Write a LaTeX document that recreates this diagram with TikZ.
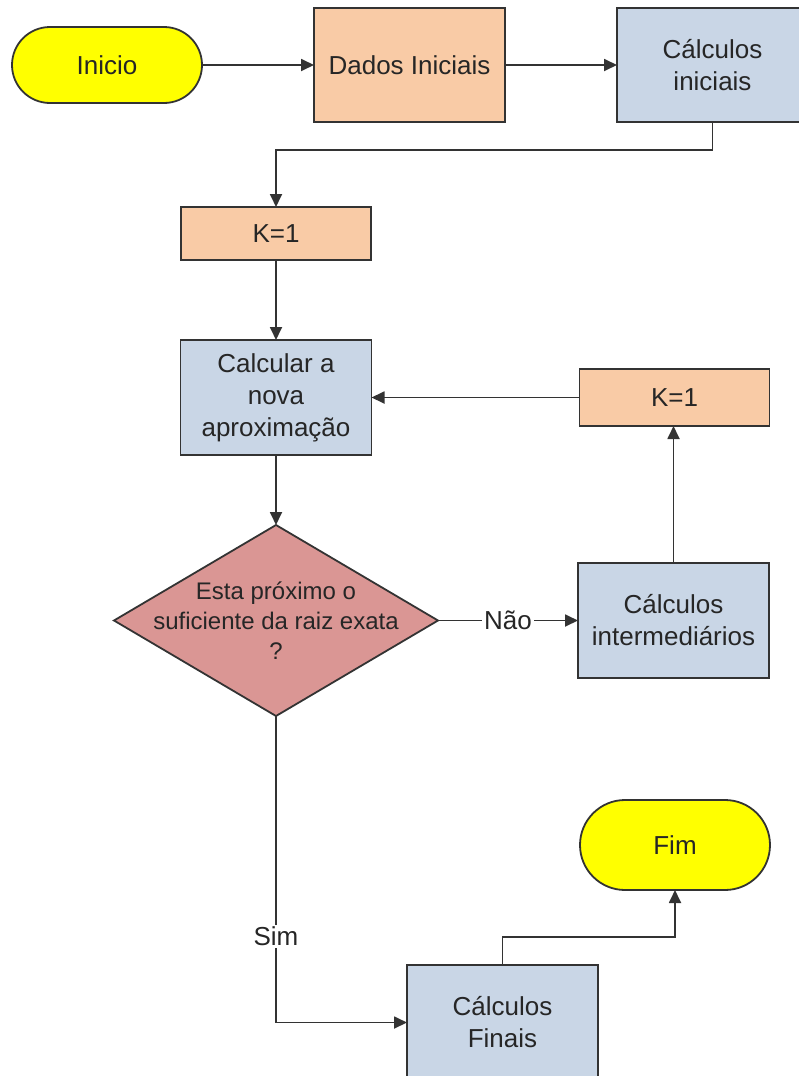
\documentclass[tikz,border=0pt]{standalone}
\usepackage{fontspec}
\setmainfont{Liberation Sans}
\usetikzlibrary{shapes.geometric, arrows.meta, positioning}

\definecolor{startyellow}{HTML}{FFFF00}
\definecolor{datapeach}{HTML}{F9CBA6}
\definecolor{calcblue}{HTML}{C9D6E6}
\definecolor{testred}{HTML}{DA9694}
\definecolor{edgegray}{HTML}{333333}
\definecolor{textgray}{HTML}{262626}

\begin{document}
\begin{tikzpicture}[
    x=1pt, y=1pt,
    every node/.style={inner sep=0pt, outer sep=0pt, text=textgray},
    terminal/.style={rectangle, rounded corners=38pt, minimum width=190pt, minimum height=76pt, align=center, fill=startyellow, draw=edgegray, line width=1.8pt, font=\fontsize{26}{31}\selectfont},
    data/.style={rectangle, minimum width=191pt, minimum height=114pt, align=center, fill=datapeach, draw=edgegray, line width=1.8pt, font=\fontsize{26}{31}\selectfont},
    calc/.style={rectangle, minimum width=191pt, minimum height=115pt, align=center, fill=calcblue, draw=edgegray, line width=1.8pt, font=\fontsize{26}{32}\selectfont},
    decision/.style={diamond, minimum width=324pt, minimum height=191pt, fill=testred, draw=edgegray, line width=1.8pt},
    answer/.style={fill=white, inner sep=2pt, font=\fontsize{26}{31}\selectfont},
    arrow/.style={-{Triangle[length=13pt,width=12pt]}, line width=1.8pt, draw=edgegray}
]
\useasboundingbox (0,0) rectangle (798,-1076);

% Inicio
\node[terminal] (inicio) at (107,-65) {Inicio};

% Dados Iniciais
\node[data, right=112pt of inicio] (dados) {Dados Iniciais};

% Calculos iniciais
\node[calc, minimum height=114pt, right=112pt of dados] (calcini) {Cálculos\\iniciais};

% K=1
\node[data, minimum width=190pt, minimum height=53pt] (k1) at (276,-233.5) {K=1};

% Nova aproximacao
\node[calc, below=80pt of k1] (nova) {Calcular a\\nova\\aproximação};

% Teste de convergencia
\node[decision, below=70pt of nova,
      label={[align=center, text=textgray, font=\fontsize{24}{30}\selectfont]center:Esta próximo o\\suficiente da raiz exata\\?}] (teste) {};

% Calculos intermediarios
\node[calc, right=140pt of teste] (interm) {Cálculos\\intermediários};

% K=1 no laco
\node[data, minimum width=190pt, minimum height=57pt, right=208pt of nova] (k2) {K=1};

% Calculos finais
\node[calc] (finais) at (502.5,-1022.5) {Cálculos\\Finais};

% Fim
\node[terminal, minimum height=90pt, rounded corners=45pt] (fim) at (675,-845) {Fim};

% Arrows
\draw[arrow] (inicio) -- (dados);
\draw[arrow] (dados) -- (calcini);
\draw[arrow] (calcini.south) -- ++(0,-28) -| (k1.north);
\draw[arrow] (k1) -- (nova);
\draw[arrow] (nova) -- (teste);

% Nao: volta pelo laco
\draw[arrow] (teste.east) -- node[answer] {Não} (interm.west);
\draw[arrow] (interm.north) -- (interm.north |- k2.south);
\draw[arrow] (k2.west) -- (nova.east);

% Sim: calculos finais
\draw[arrow] (teste.south) |- node[answer, pos=0.36] {Sim} (finais.west);
\draw[arrow] (finais.north) -- ++(0,28) -| (fim.south);

\end{tikzpicture}
\end{document}
